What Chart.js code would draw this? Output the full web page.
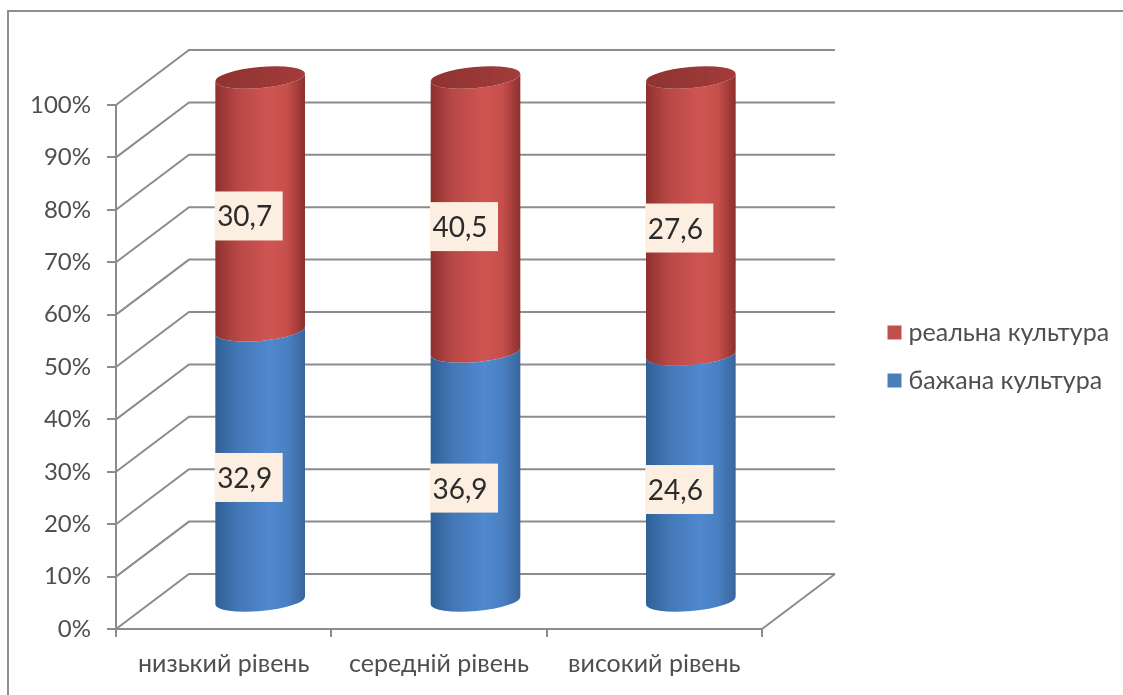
<!DOCTYPE html>
<html lang="uk">
<head>
<meta charset="utf-8">
<title>Культура</title>
<style>
  html, body { margin: 0; background: #fff; }
  canvas { display: block; }
</style>
<script src="https://cdn.jsdelivr.net/npm/chart.js@4/dist/chart.umd.js"></script>
</head>
<body>
<canvas id="chart" width="1123" height="695"></canvas>
<script>
const levels = ['низький рівень', 'середній рівень', 'високий рівень'];
const realCulture = [30.7, 40.5, 27.6];
const wantedCulture = [32.9, 36.9, 24.6];

const fontFamily = 'Lato, "Noto Sans", sans-serif';
const textColor = '#4f4f4f';
const lineColor = '#8c8c8c';

// offset of the back wall from the front plane
const depthX = 73;
const depthY = -55;

// side shading for each series, left to right
const shades = {
    '#c0504d': { side: ['#8f302e', '#b84846', '#cf5552', '#c64f4c', '#8c2f2d'], cap: ['#8e3331', '#a33c3a'] },
    '#4a7ebb': { side: ['#2f5f96', '#4377b5', '#5089d0', '#4a80c2', '#3a659c'], cap: ['#2c5586', '#3a6aa3'] }
};

// 100% stacked: every column shows the share of its own total
const share = (values, others) => values.map((v, i) => v / (v + others[i]) * 100);

class CylinderElement extends Chart.BarElement {
    draw(ctx) {
        const { x, y, base, width } = this.getProps(['x', 'y', 'base', 'width']);
        const colors = shades[this.options.backgroundColor];
        const cx = x + depthX / 2;
        const top = y + depthY / 2;
        const bottom = base + depthY / 2;
        const a = width / 2;
        const b = 10.5;
        const tilt = -5 * Math.PI / 180;
        const dx = a * Math.cos(tilt);
        const dy = a * Math.sin(tilt);

        const side = ctx.createLinearGradient(cx - a, 0, cx + a, 0);
        side.addColorStop(0, colors.side[0]);
        side.addColorStop(0.25, colors.side[1]);
        side.addColorStop(0.6, colors.side[2]);
        side.addColorStop(0.8, colors.side[3]);
        side.addColorStop(1, colors.side[4]);

        ctx.save();
        ctx.fillStyle = side;
        ctx.beginPath();
        ctx.ellipse(cx, bottom, a, b, tilt, 0, Math.PI);
        ctx.lineTo(cx - dx, top - dy);
        ctx.ellipse(cx, top, a, b, tilt, Math.PI, 0, true);
        ctx.closePath();
        ctx.fill();

        // only the uppermost segment of a column shows its lid
        if (this.options.capped) {
            const cap = ctx.createLinearGradient(cx - a, 0, cx + a, 0);
            cap.addColorStop(0, colors.cap[0]);
            cap.addColorStop(1, colors.cap[1]);
            ctx.fillStyle = cap;
            ctx.beginPath();
            ctx.ellipse(cx, top, a, b, tilt, 0, Math.PI * 2);
            ctx.fill();
        }
        ctx.restore();
    }
}
CylinderElement.id = 'cylinderElement';
CylinderElement.defaults = { ...Chart.BarElement.defaults, capped: false };

class CylinderController extends Chart.BarController {}
CylinderController.id = 'cylinder';
CylinderController.defaults = { ...Chart.BarController.defaults, dataElementType: 'cylinderElement' };

Chart.register(CylinderElement, CylinderController);

// outer frame, open at the right and bottom
const framePlugin = {
    id: 'frame',
    beforeDraw(chart) {
        const { ctx, width, height } = chart;
        ctx.save();
        ctx.strokeStyle = '#8e8e8e';
        ctx.lineWidth = 2;
        ctx.beginPath();
        ctx.moveTo(8, height);
        ctx.lineTo(8, 11);
        ctx.lineTo(width, 11);
        ctx.stroke();
        ctx.restore();
    }
};

// side wall and back wall grid, plus the floor edge on the right
const wallPlugin = {
    id: 'walls',
    beforeDatasetsDraw(chart) {
        const { ctx, chartArea, scales } = chart;
        const { left, right } = chartArea;
        ctx.save();
        ctx.strokeStyle = lineColor;
        ctx.lineWidth = 2;
        ctx.beginPath();
        scales.y.ticks.forEach(tick => {
            const y = scales.y.getPixelForValue(tick.value);
            ctx.moveTo(left, y);
            ctx.lineTo(left + depthX, y + depthY);
            ctx.lineTo(right + depthX, y + depthY);
        });
        const floor = scales.y.getPixelForValue(0);
        ctx.moveTo(right, floor);
        ctx.lineTo(right + depthX, floor + depthY);
        ctx.stroke();
        ctx.restore();
    }
};

// value boxes over the column segments
const valueLabels = {
    id: 'valueLabels',
    afterDatasetsDraw(chart) {
        const { ctx } = chart;
        ctx.save();
        ctx.font = '28px ' + fontFamily;
        ctx.textAlign = 'center';
        ctx.textBaseline = 'middle';
        chart.data.datasets.forEach((dataset, d) => {
            chart.getDatasetMeta(d).data.forEach((bar, i) => {
                const c = bar.getCenterPoint();
                const x = c.x + 25;
                const y = c.y - 16;
                ctx.fillStyle = '#fdeee2';
                ctx.fillRect(x - 34, y - 24, 68, 49);
                ctx.fillStyle = '#2b2b2b';
                ctx.fillText(dataset.rawValues[i].toFixed(1).replace('.', ','), x - 4, y + 2);
            });
        });
        ctx.restore();
    }
};

// the legend sits to the right of the back wall
const legendPlacement = {
    id: 'legendPlacement',
    afterLayout(chart) {
        const legend = chart.legend;
        legend.left = 870;
        legend.right = 1123;
        legend.top = 297;
        legend.bottom = 420;
    }
};

new Chart(document.querySelector('#chart'), {
    type: 'cylinder',
    data: {
        labels: levels,
        datasets: [
            {
                label: 'бажана культура',
                data: share(wantedCulture, realCulture),
                rawValues: wantedCulture,
                backgroundColor: '#4a7ebb',
                barThickness: 90,
                clip: false
            },
            {
                label: 'реальна культура',
                data: share(realCulture, wantedCulture),
                rawValues: realCulture,
                backgroundColor: '#c0504d',
                barThickness: 90,
                capped: true,
                clip: false
            }
        ]
    },
    options: {
        responsive: false,
        animation: false,
        layout: { padding: { left: 0, top: 105, right: 361, bottom: 0 } },
        scales: {
            x: {
                type: 'category',
                stacked: true,
                offset: true,
                afterFit: scale => { scale.height = 66; },
                border: { color: lineColor, width: 2 },
                grid: { offset: true, drawOnChartArea: false, color: lineColor, lineWidth: 2, tickLength: 8 },
                ticks: { color: textColor, padding: 12, maxRotation: 0, font: { family: fontFamily, size: 25 } }
            },
            y: {
                type: 'linear',
                stacked: true,
                min: 0,
                max: 100,
                afterFit: scale => { scale.width = 116; },
                border: { color: lineColor, width: 2 },
                grid: { drawOnChartArea: false, color: lineColor, lineWidth: 2, tickLength: 9 },
                ticks: {
                    stepSize: 10,
                    color: textColor,
                    padding: 16,
                    font: { family: fontFamily, size: 24 },
                    callback: value => value + '%'
                }
            }
        },
        plugins: {
            tooltip: { enabled: false },
            legend: {
                position: 'chartArea',
                align: 'start',
                reverse: true,
                labels: {
                    color: textColor,
                    // narrow box width keeps the text close to the square marker
                    usePointStyle: true,
                    pointStyle: 'rect',
                    boxWidth: 3,
                    boxHeight: 14,
                    padding: 23,
                    font: { family: fontFamily, size: 25 }
                }
            }
        }
    },
    plugins: [framePlugin, wallPlugin, valueLabels, legendPlacement]
});
</script>
</body>
</html>
